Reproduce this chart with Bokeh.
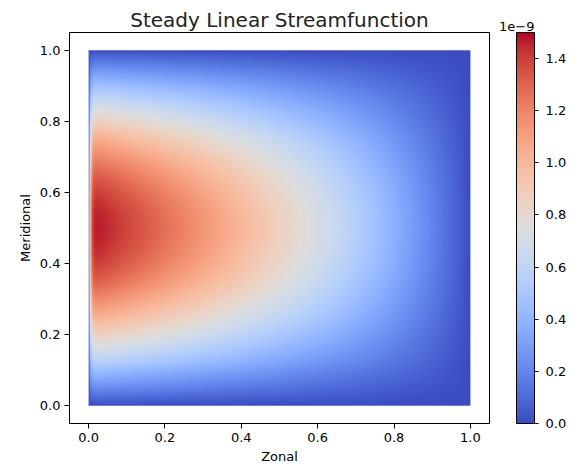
import numpy as np
from bokeh.plotting import figure
from bokeh.layouts import row
from bokeh.models import (LinearColorMapper, ColorBar, FixedTicker,
                          PrintfTickFormatter)
from bokeh.embed import file_html
from bokeh.resources import INLINE

# ---------------- chart content ----------------
title_text = "Steady Linear Streamfunction"
x_label = "Zonal"
y_label = "Meridional"
axis_ticks = [0.0, 0.2, 0.4, 0.6, 0.8, 1.0]
cbar_ticks = [0.0, 0.2, 0.4, 0.6, 0.8, 1.0, 1.2, 1.4]
cbar_offset_text = "1e\u22129"

# Field parameters (psi in units of 1e-9)
psi_peak = 1.50          # top of the colour bar
west_layer = 0.004       # width of the thin western boundary layer
interior_decay = 0.6     # curvature of the eastward decay in the interior
nx, ny = 600, 360        # sampling of the field

# coolwarm (Moreland) control colours -> 256-step palette
cw_table = [
    (59, 76, 192), (68, 90, 204), (77, 104, 215), (87, 117, 225), (98, 130, 234),
    (108, 142, 241), (119, 154, 247), (130, 165, 251), (141, 176, 254), (152, 185, 255),
    (163, 194, 255), (174, 201, 253), (184, 208, 249), (194, 213, 244), (204, 217, 238),
    (213, 219, 230), (221, 221, 221), (229, 216, 209), (236, 211, 197), (241, 204, 185),
    (245, 196, 173), (247, 187, 160), (247, 177, 148), (247, 166, 135), (244, 154, 123),
    (241, 141, 111), (236, 127, 99), (229, 112, 88), (222, 96, 77), (213, 80, 66),
    (203, 62, 56), (192, 40, 47), (180, 4, 38)]
tab = np.array(cw_table, dtype=float)
pos = np.linspace(0, 1, len(tab))
t = np.linspace(0, 1, 256)
palette = ["#%02x%02x%02x" % tuple(int(round(np.interp(v, pos, tab[:, c]))) for c in range(3))
           for v in t]

# ---------------- field ----------------
xs = (np.arange(nx) + 0.5) / nx
ys = (np.arange(ny) + 0.5) / ny
X, Y = np.meshgrid(xs, ys)
zonal = (1 - np.exp(-X / west_layer)) * (1 - np.exp(interior_decay * (X - 1))) / (1 - np.exp(-interior_decay))
psi = psi_peak * zonal * np.sin(np.pi * Y)

# ---------------- main figure ----------------
FONT = "DejaVu Sans"
p = figure(width=491, height=470, x_range=(-0.05, 1.05), y_range=(-0.05, 1.05),
           output_backend="svg", toolbar_location=None, title=title_text,
           min_border_left=69, min_border_right=2, min_border_top=32, min_border_bottom=47)
p.grid.visible = False
p.outline_line_color = "black"
p.outline_line_width = 1
p.background_fill_color = "white"
p.border_fill_color = "white"

p.title.align = "center"
p.title.text_font = FONT
p.title.text_font_size = "20px"
p.title.text_font_style = "normal"
p.title.text_color = "#222222"
p.title.standoff = 2

mapper = LinearColorMapper(palette=palette, low=0.0, high=psi_peak)
p.image(image=[psi], x=0, y=0, dw=1, dh=1, color_mapper=mapper)

for ax in (p.xaxis, p.yaxis):
    ax.ticker = FixedTicker(ticks=axis_ticks)
    ax.formatter = PrintfTickFormatter(format="%.1f")
    ax.minor_tick_line_color = None
    ax.major_tick_in = 0
    ax.major_tick_out = 5
    ax.major_tick_line_color = "black"
    ax.axis_line_color = "black"
    ax.major_label_text_font = FONT
    ax.major_label_text_font_size = "13px"
    ax.major_label_text_color = "black"
    ax.axis_label_text_font = FONT
    ax.axis_label_text_font_size = "13px"
    ax.axis_label_text_font_style = "normal"
    ax.axis_label_text_color = "black"
    ax.major_label_standoff = 4
    ax.axis_label_standoff = 4
p.xaxis.axis_label = x_label
p.yaxis.axis_label = y_label

# ---------------- colour-bar figure ----------------
cb_fig = figure(width=88, height=470, x_range=(0, 1), y_range=(0, 1),
                output_backend="svg", toolbar_location=None, title=cbar_offset_text,
                x_axis_type=None, y_axis_type=None,
                min_border_left=25, min_border_right=45, min_border_top=32, min_border_bottom=47)
cb_fig.grid.visible = False
cb_fig.outline_line_color = None
cb_fig.background_fill_color = None
cb_fig.border_fill_color = "white"
cb_fig.title.align = "right"
cb_fig.title.text_font = FONT
cb_fig.title.text_font_size = "13px"
cb_fig.title.text_font_style = "normal"
cb_fig.title.text_color = "black"
cb_fig.title.standoff = 3

cbar = ColorBar(color_mapper=mapper, location=(0, 0), width=18, height=391,
                padding=0, margin=0,
                ticker=FixedTicker(ticks=cbar_ticks),
                formatter=PrintfTickFormatter(format="%.1f"),
                major_tick_in=0, major_tick_out=4, major_tick_line_color="black",
                minor_tick_line_color=None, bar_line_color="black",
                label_standoff=7, major_label_text_font=FONT,
                major_label_text_font_size="13px", major_label_text_color="black",
                background_fill_color=None, border_line_color=None)
cb_fig.add_layout(cbar, "center")

layout = row(p, cb_fig, spacing=0)
open("out.html", "w").write(file_html(layout, INLINE))
